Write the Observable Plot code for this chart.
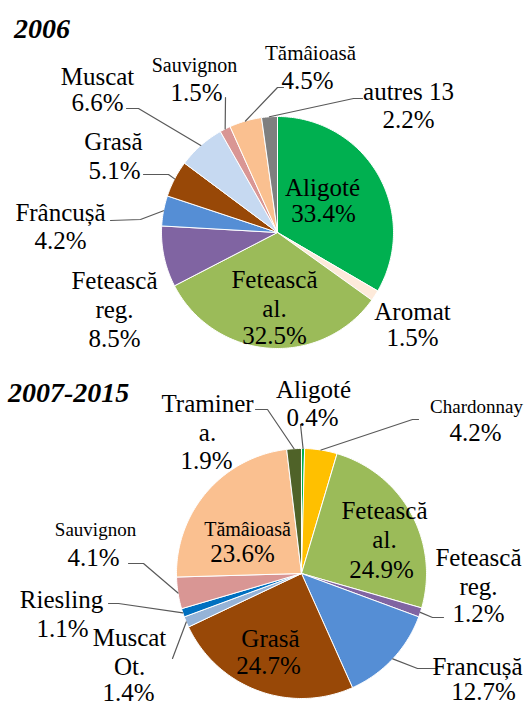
<!DOCTYPE html>
<html>
<head>
<meta charset="utf-8">
<script src="https://cdn.jsdelivr.net/npm/d3@7"></script>
<script src="https://cdn.jsdelivr.net/npm/@observablehq/plot@0.6"></script>
<style>
  html, body { margin: 0; padding: 0; background: #fff; }
  #wrap { position: relative; width: 528px; height: 705px; font-family: "Liberation Serif", serif; }
  #chart svg { display: block; }
  .title { position: absolute; font-family: "Liberation Serif", serif; font-weight: bold; font-style: italic; font-size: 28px; line-height: 32px; color: #000; }
</style>
</head>
<body>
<div id="wrap">
  <div id="chart"></div>
</div>
<script>
// ---- Data ----
const titles = ["2006", "2007-2015"];

const names2006 = ["Aligoté", "Aromat", "Fetească al.", "Fetească reg.", "Frâncușă", "Grasă", "Muscat", "Sauvignon", "Tămâioasă", "autres 13"];
const values2006 = [33.4, 1.5, 32.5, 8.5, 4.2, 5.1, 6.6, 1.5, 4.5, 2.2];

const names2015 = ["Aligoté", "Chardonnay", "Fetească al.", "Fetească reg.", "Francușă", "Grasă", "Muscat Ot.", "Riesling", "Sauvignon", "Tămâioasă", "Traminer a."];
const values2015 = [0.4, 4.2, 24.9, 1.2, 12.7, 24.7, 1.4, 1.1, 4.1, 23.6, 1.9];

const colorNames = ["Aligoté", "Aromat", "Fetească al.", "Fetească reg.", "Frâncușă", "Francușă", "Grasă", "Muscat", "Muscat Ot.", "Sauvignon", "Tămâioasă", "autres 13", "Chardonnay", "Riesling", "Traminer a."];
const colorValues = ["#00B050", "#FDEADA", "#9BBB59", "#8064A2", "#558ED5", "#558ED5", "#984807", "#C6D9F1", "#95B3D7", "#D99694", "#FAC090", "#7F7F7F", "#FFC000", "#0070C0", "#4F6228"];

// ---- Layout (positions / sizes only) ----
const W = 528, H = 705;
const pieLayout = [
  {cx: 277, cy: 232, r: 116},
  {cx: 301, cy: 573, r: 125}
];
const titlePos = [{left: 14, top: 13}, {left: 8, top: 377}];

const labelLayout2006 = {
  "Aligoté":       {nx: 322, ny: 186, vx: 323, vy: 213},
  "Aromat":        {nx: 412, ny: 310, vx: 412, vy: 337},
  "Fetească al.":  {nx: 274, ny: 292.5, vx: 274, vy: 335},
  "Fetească reg.": {nx: 114, ny: 294, vx: 114, vy: 338},
  "Frâncușă":      {nx: 60, ny: 211, vx: 60, vy: 240, lead: [[110, 220], [140, 219]]},
  "Grasă":         {nx: 113, ny: 140, vx: 114, vy: 170, lead: [[143, 174], [168, 174]]},
  "Muscat":        {nx: 97, ny: 75, vx: 97, vy: 102, lead: [[126, 108], [138, 108]]},
  "Sauvignon":     {nx: 194, ny: 64, vx: 196, vy: 92, fs: 20, lead: [[225, 97]]},
  "Tămâioasă":     {nx: 310, ny: 52, vx: 307, vy: 80, fs: 21, lead: [[283, 87], [277, 87]]},
  "autres 13":     {nx: 408, ny: 90, vx: 408, vy: 119, nowrap: true, lead: [[362, 98], [353, 98]]}
};
const labelLayout2015 = {
  "Aligoté":       {nx: 313, ny: 388, vx: 312, vy: 417, lead: [[300, 424]]},
  "Chardonnay":    {nx: 476, ny: 405, vx: 475, vy: 432, fs: 19, lead: [[418, 419], [412, 419]]},
  "Fetească al.":  {nx: 384, ny: 523.5, vx: 381, vy: 569},
  "Fetească reg.": {nx: 478, ny: 570.5, vx: 478, vy: 613, lead: [[443, 617], [432, 617]]},
  "Francușă":      {nx: 477, ny: 665, vx: 483, vy: 691, lead: [[437, 668], [417, 668]]},
  "Grasă":         {nx: 270, ny: 637, vx: 268, vy: 665},
  "Muscat Ot.":    {nx: 129, ny: 651, vx: 128, vy: 692, lead: [[172, 658]]},
  "Riesling":      {nx: 61, ny: 598, vx: 62, vy: 628, lead: [[108, 603], [118, 603]]},
  "Sauvignon":     {nx: 95, ny: 528, vx: 93, vy: 557, fs: 19, lead: [[128, 563], [143, 563]]},
  "Tămâioasă":     {nx: 247, ny: 528, vx: 242, vy: 553, fs: 20},
  "Traminer a.":   {nx: 207, ny: 416.5, vx: 206, vy: 460, lead: [[255, 409], [267, 409]]}
};

// ---- Build geometry from data ----
const sliceRows = [];
const leaderRows = [];
const nameRows = [];
const valueRows = [];

function build(pieIndex, names, values, layout) {
  const {cx, cy, r} = pieLayout[pieIndex];
  const data = names.map((name, i) => ({name, value: values[i]}));
  const arcs = d3.pie().sort(null).value(d => d.value)(data);
  arcs.forEach((a) => {
    const id = pieIndex + ":" + a.data.name;
    const n = Math.max(2, Math.ceil((a.endAngle - a.startAngle) / (Math.PI / 180)));
    sliceRows.push({id, name: a.data.name, x: cx, y: cy});
    for (let k = 0; k <= n; k++) {
      const t = a.startAngle + (a.endAngle - a.startAngle) * k / n;
      sliceRows.push({id, name: a.data.name, x: cx + r * Math.sin(t), y: cy - r * Math.cos(t)});
    }
    sliceRows.push({id, name: a.data.name, x: cx, y: cy});

    const L = layout[a.data.name];
    const nameText = L.nowrap ? a.data.name : a.data.name.replace(" ", "\n");
    nameRows.push({x: L.nx, y: L.ny, text: nameText, fs: L.fs || 25});
    valueRows.push({x: L.vx, y: L.vy, text: a.data.value.toFixed(1) + "%"});
    if (L.lead) {
      const mid = (a.startAngle + a.endAngle) / 2;
      const pts = L.lead.concat([[cx + r * Math.sin(mid), cy - r * Math.cos(mid)]]);
      pts.forEach(p => leaderRows.push({id, x: p[0], y: p[1]}));
    }
  });
}
build(0, names2006, values2006, labelLayout2006);
build(1, names2015, values2015, labelLayout2015);

const font = "Liberation Serif";

const chart = Plot.plot({
  width: W,
  height: H,
  margin: 0,
  x: {domain: [0, W], range: [0, W], axis: null},
  y: {domain: [0, H], range: [0, H], axis: null},
  color: {domain: colorNames, range: colorValues},
  marks: [
    Plot.line(sliceRows, {x: "x", y: "y", z: "id", fill: "name", stroke: "white", strokeWidth: 1, curve: "linear"}),
    Plot.line(leaderRows, {x: "x", y: "y", z: "id", stroke: "#595959", strokeWidth: 1.2, curve: "linear"}),
    Plot.text(nameRows, {x: "x", y: "y", text: "text", fontSize: d => d.fs, lineHeight: 1.16, fill: "#000", fontFamily: font}),
    Plot.text(valueRows, {x: "x", y: "y", text: "text", fontSize: 25, fill: "#000", fontFamily: font})
  ]
});
document.getElementById("chart").appendChild(chart);

// Titles as HTML text above the SVG
const wrap = document.getElementById("wrap");
titles.forEach((t, i) => {
  const el = document.createElement("div");
  el.className = "title";
  el.textContent = t;
  el.style.left = titlePos[i].left + "px";
  el.style.top = titlePos[i].top + "px";
  wrap.appendChild(el);
});
</script>
</body>
</html>
